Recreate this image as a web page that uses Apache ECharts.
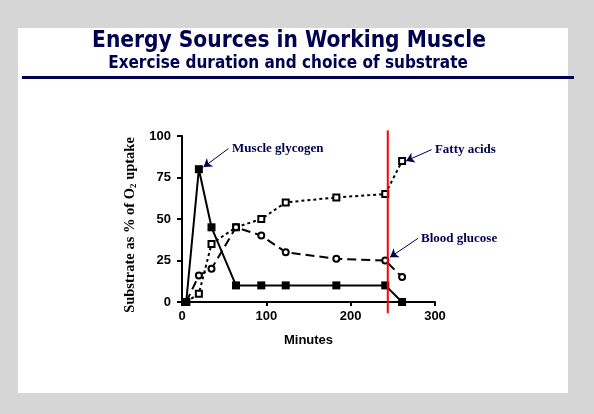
<!DOCTYPE html>
<html>
<head>
<meta charset="utf-8">
<script src="https://cdn.jsdelivr.net/npm/echarts@6/dist/echarts.min.js"></script>
<style>
html,body{margin:0;padding:0;background:#d6d6d6;}
#c{width:594px;height:414px;}
</style>
</head>
<body>
<div id="c"></div>
<script>
var minutes = [5, 20, 35, 64, 94, 123, 183, 241, 261];
var muscleGlycogen = [0, 80, 45, 10, 10, 10, 10, 10, 0];
var fattyAcids = [0, 5, 35, 45, 50, 60, 63, 65, 85];
var bloodGlucose = [0, 16, 20, 45, 40, 30, 26, 25, 15];
var xTicks = [0, 100, 200, 300];
var yTicks = [0, 25, 50, 75, 100];
var markerMinute = 244;
var labelNames = ['Muscle glycogen', 'Fatty acids', 'Blood glucose'];
var labelAnchors = [[57, 92.5], [297.5, 92], [281, 38.4]];
var arrowFrom = [[55, 92.4], [296, 91.8], [280, 38.4]];
var arrowTo = [[25.6, 81.3], [265.8, 85], [246.7, 27]];

var NAVY = '#000050';
function pairs(ys){ return minutes.map(function(m,i){ return [m, ys[i]]; }); }

var chart = echarts.init(document.getElementById('c'), null, {renderer:'canvas'});
chart.setOption({
  animation:false,
  backgroundColor:'transparent',
  graphic:[
    {type:'rect', z:-10, shape:{x:18,y:28,width:550,height:365}, style:{fill:'#ffffff'}},
    {type:'rect', z:-9, shape:{x:22,y:76,width:552,height:3}, style:{fill:NAVY}},
    {type:'text', x:289, y:41, style:{text:'Energy Sources in Working Muscle', fill:NAVY,
      font:'bold 22.5px "DejaVu Sans Condensed", "DejaVu Sans"', textAlign:'center', textVerticalAlign:'middle'}},
    {type:'text', x:288, y:64, style:{text:'Exercise duration and choice of substrate', fill:NAVY,
      font:'bold 17px "Liberation Sans Narrow", "DejaVu Sans Condensed"', textAlign:'center', textVerticalAlign:'middle'}}
  ],
  grid:{left:182, right:159, top:136, bottom:112},
  xAxis:{
    type:'value', min:xTicks[0], max:xTicks[xTicks.length-1], interval:xTicks[1]-xTicks[0],
    name:'Minutes', nameLocation:'middle', nameGap:32,
    nameTextStyle:{color:'#000', fontFamily:'Liberation Sans, Arial', fontWeight:'bold', fontSize:13},
    axisLine:{lineStyle:{color:'#000', width:2}},
    axisTick:{show:true, length:4, lineStyle:{color:'#000', width:2}},
    axisLabel:{color:'#000', fontFamily:'Liberation Sans, Arial', fontWeight:'bold', fontSize:13, margin:8},
    splitLine:{show:false}
  },
  yAxis:{
    type:'value', min:yTicks[0], max:yTicks[yTicks.length-1], interval:yTicks[1]-yTicks[0],
    name:'Substrate as % of O{sub|2} uptake', nameLocation:'middle', nameGap:44,
    nameTextStyle:{color:'#000', fontFamily:'Liberation Serif, Times New Roman', fontWeight:'bold', fontSize:14.5,
      padding:[0,12,0,0],
      rich:{sub:{fontSize:9, fontFamily:'Liberation Serif', fontWeight:'bold', color:'#000', verticalAlign:'bottom', padding:[6,0,0,0]}}},
    axisLine:{show:true, lineStyle:{color:'#000', width:2}},
    axisTick:{show:true, length:5, lineStyle:{color:'#000', width:2}},
    axisLabel:{color:'#000', fontFamily:'Liberation Sans, Arial', fontWeight:'bold', fontSize:13, margin:11},
    splitLine:{show:false}
  },
  series:[
    {type:'line', name:'Fatty acids', data:pairs(fattyAcids), symbol:'emptyRect', symbolSize:6,
      itemStyle:{color:'#000', borderWidth:1}, lineStyle:{color:'#000', width:2, type:[3,3]}, z:3},
    {type:'line', name:'Blood glucose', data:pairs(bloodGlucose), symbol:'emptyCircle', symbolSize:6,
      itemStyle:{color:'#000', borderWidth:1}, lineStyle:{color:'#000', width:2, type:[9,5]}, z:3},
    {type:'line', name:'Muscle glycogen', data:pairs(muscleGlycogen), symbol:'rect', symbolSize:8,
      itemStyle:{color:'#000'}, lineStyle:{color:'#000', width:2}, z:4},
    {type:'line', name:'marker', data:[[markerMinute, 103.4], [markerMinute, -6.8]], clip:false, symbol:'none',
      lineStyle:{color:'#ff0000', width:2}, silent:true, z:5},
    {type:'line', name:'annotations', data:[], clip:false, silent:true, z:6,
      markLine:{silent:true, symbol:['none','arrow'], symbolSize:8,
        itemStyle:{color:NAVY},
        lineStyle:{color:NAVY, width:1, type:'solid'}, label:{show:false},
        data:arrowFrom.map(function(f,i){ return [{coord:f},{coord:arrowTo[i]}]; })},
      markPoint:{silent:true, symbol:'circle', symbolSize:0,
        label:{show:true, position:'right', distance:2, color:NAVY, fontFamily:'Liberation Serif, Times New Roman',
          fontWeight:'bold', fontSize:13, formatter:function(p){ return p.name; }},
        data:labelNames.map(function(n,i){ return {name:n, coord:labelAnchors[i]}; })}
    }
  ]
});
</script>
</body>
</html>
